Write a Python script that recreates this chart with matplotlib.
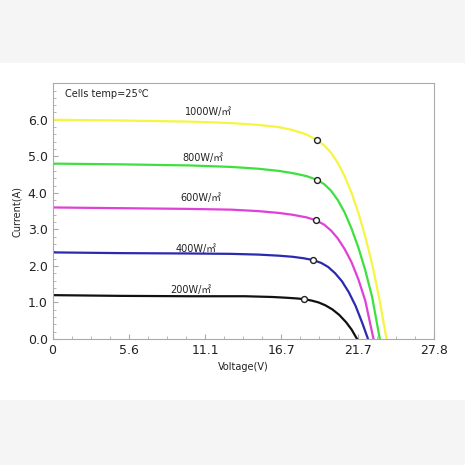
import matplotlib

matplotlib.use("Agg")
import matplotlib.pyplot as plt
from matplotlib.patches import Rectangle
from matplotlib.ticker import AutoMinorLocator

FONTS = ["DejaVu Sans", "Noto Sans CJK SC"]

LABELS = ["1000W/㎡", "800W/㎡", "600W/㎡", "400W/㎡", "200W/㎡"]
COLORS = ["#f5f542", "#3ee03e", "#e040d8", "#2a2ab0", "#111111"]

V_1000 = [0, 5, 10, 13, 15, 16.5, 17.5, 18.5, 19.25, 19.8, 20.3, 20.8, 21.3, 21.8, 22.3, 22.8, 23.3, 23.8, 24.35]
I_1000 = [6.0, 5.98, 5.95, 5.91, 5.86, 5.8, 5.72, 5.6, 5.45, 5.3, 5.1, 4.82, 4.45, 4.0, 3.45, 2.8, 2.05, 1.15, 0]
V_800 = [0, 5, 10, 13, 15, 16.5, 17.5, 18.5, 19.25, 19.8, 20.3, 20.8, 21.3, 21.8, 22.3, 22.8, 23.3, 23.86]
I_800 = [4.8, 4.78, 4.75, 4.71, 4.66, 4.6, 4.54, 4.46, 4.36, 4.24, 4.06, 3.8, 3.46, 3.02, 2.5, 1.88, 1.15, 0]
V_600 = [0, 5, 10, 13, 15, 16.5, 17.5, 18.5, 19.2, 19.8, 20.3, 20.8, 21.3, 21.8, 22.3, 22.8, 23.4]
I_600 = [3.6, 3.58, 3.56, 3.54, 3.5, 3.45, 3.4, 3.33, 3.25, 3.13, 2.97, 2.75, 2.46, 2.1, 1.63, 1.05, 0]
V_400 = [0, 5, 10, 13, 15, 16.5, 17.5, 18.3, 19.0, 19.6, 20.1, 20.6, 21.1, 21.6, 22.1, 22.6, 23.0]
I_400 = [2.37, 2.35, 2.34, 2.33, 2.31, 2.28, 2.25, 2.21, 2.16, 2.08, 1.97, 1.8, 1.58, 1.28, 0.9, 0.42, 0]
V_200 = [0, 5, 10, 14, 16, 17, 17.8, 18.35, 18.9, 19.4, 19.9, 20.4, 20.9, 21.4, 21.8, 22.2]
I_200 = [1.2, 1.18, 1.17, 1.17, 1.15, 1.13, 1.11, 1.09, 1.05, 1.0, 0.92, 0.81, 0.66, 0.46, 0.26, 0]

MPP_V = [19.25, 19.25, 19.2, 19.0, 18.35]
MPP_I = [5.45, 4.36, 3.25, 2.16, 1.09]

LABEL_X = [9.65, 9.5, 9.35, 9.0, 8.6]
LABEL_Y = [6.2, 4.95, 3.85, 2.47, 1.34]

X_TICKS = [0, 5.56, 11.12, 16.68, 22.24, 27.8]
X_TICK_LABELS = ["0", "5.6", "11.1", "16.7", "21.7", "27.8"]
Y_TICKS = [0, 1, 2, 3, 4, 5, 6]

fig = plt.figure(figsize=(4.65, 4.65), dpi=100, facecolor="#f5f5f5")
fig.patches.append(Rectangle((0, 0.14), 1, 0.725, transform=fig.transFigure,
                             facecolor="white", edgecolor="none", zorder=-1))
ax = fig.add_axes([0.113, 0.271, 0.82, 0.55])

curves = [(V_1000, I_1000), (V_800, I_800), (V_600, I_600), (V_400, I_400), (V_200, I_200)]
for (v, i), c in zip(curves, COLORS):
    ax.plot(v, i, color=c, lw=1.6)
ax.scatter(MPP_V, MPP_I, s=18, facecolor="white", edgecolor="#222222", lw=1, zorder=3)
for x, y, t in zip(LABEL_X, LABEL_Y, LABELS):
    ax.text(x, y, t, fontsize=7, family=FONTS, va="center", color="#222222")
ax.text(0.9, 6.71, "Cells temp=25℃", fontsize=7, family=FONTS, va="center", color="#222222")

ax.set_xlim(0, 27.8)
ax.set_ylim(0, 7.0)
ax.set_xticks(X_TICKS, X_TICK_LABELS)
ax.set_yticks(Y_TICKS, [f"{y:.1f}" for y in Y_TICKS])
ax.xaxis.set_minor_locator(AutoMinorLocator(4))
ax.yaxis.set_minor_locator(AutoMinorLocator(5))
ax.tick_params(which="both", direction="in", colors="#aaaaaa", labelcolor="#222222")
ax.tick_params(axis="both", labelsize=9)
for s in ax.spines.values():
    s.set_color("#aaaaaa")
ax.set_xlabel("Voltage(V)", fontsize=7, color="#222222")
ax.set_ylabel("Current(A)", fontsize=7, color="#222222")

fig.savefig("out.png", dpi=100, facecolor=fig.get_facecolor())
